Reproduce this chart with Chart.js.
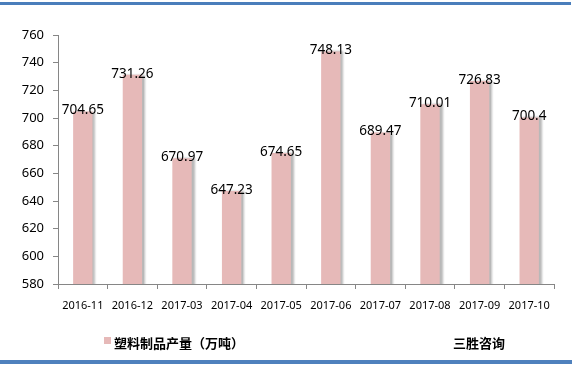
<!doctype html>
<html>
<head>
  <meta charset="utf-8" />
  <title>塑料制品产量</title>
  <style>
    html,body{margin:0;padding:0;background:#fff}
    .wrap{position:relative;width:572px;height:367px;overflow:hidden;background:#fff}
    .topline{position:absolute;left:0;top:2px;width:571px;height:3px;background:#4a7ebb}
    .botline{position:absolute;left:0;top:360px;width:572px;height:4px;background:#4f81bd}
    canvas{position:absolute;left:0;top:0}
    .legend{position:absolute;left:104px;top:333px;font:bold 13px "Noto Sans CJK SC",sans-serif;color:#000;white-space:nowrap}
    .legend i{display:inline-block;width:7px;height:7px;background:#e6b9b8;margin-right:3px;vertical-align:4px}
    .src{position:absolute;left:453px;top:333px;font:bold 13px "Noto Sans CJK SC",sans-serif;color:#000}
  </style>
</head>
<body>
  <div class="wrap">
    <div class="topline"></div>
    <canvas id="c" width="572" height="367"></canvas>
    <div class="botline"></div>
    <div class="legend"><i></i>塑料制品产量（万吨）</div>
    <div class="src">三胜咨询</div>
  </div>

  <script src="https://cdn.jsdelivr.net/npm/chart.js@4.4.1/dist/chart.umd.min.js"></script>
  <script>
    const months = ['2016-11','2016-12','2017-03','2017-04','2017-05','2017-06','2017-07','2017-08','2017-09','2017-10'];
    const output = [704.65, 731.26, 670.97, 647.23, 674.65, 748.13, 689.47, 710.01, 726.83, 700.4];
    const seriesName = '塑料制品产量（万吨）';

    // grey drop shadow on the right of each bar, like the Excel original
    const barShadow = {
      id: 'barShadow',
      beforeDatasetsDraw(chart){
        const c = chart.ctx;
        c.save();
        c.shadowColor = 'rgba(0,0,0,0.28)';
        c.shadowOffsetX = 3;
        c.shadowOffsetY = 0;
        c.shadowBlur = 2;
      },
      afterDatasetsDraw(chart){ chart.ctx.restore(); }
    };

    const valueLabels = {
      id: 'valueLabels',
      afterDatasetsDraw(chart){
        const c = chart.ctx;
        const meta = chart.getDatasetMeta(0);
        c.save();
        c.font = '13.5px "Noto Sans", sans-serif';
        c.fillStyle = '#000';
        c.textAlign = 'center';
        c.textBaseline = 'middle';
        meta.data.forEach((bar, i) => {
          c.fillText(String(output[i]), bar.x, bar.y - 1);
        });
        c.restore();
      }
    };

    new Chart(document.getElementById('c'), {
      type: 'bar',
      data: {
        labels: months,
        datasets: [{
          label: seriesName,
          data: output,
          backgroundColor: '#e6b9b8',
          borderWidth: 0,
          barPercentage: 0.39,
          categoryPercentage: 1
        }]
      },
      options: {
        responsive: false,
        animation: false,
        layout: { padding: { top: 35, right: 18, bottom: 0, left: 0 } },
        plugins: { legend: { display: false }, tooltip: { enabled: false } },
        scales: {
          x: {
            afterFit: s => { s.height = 83; },
            grid: { display: true, drawOnChartArea: false, offset: true, tickLength: 5, color: '#868686' },
            border: { color: '#868686' },
            ticks: { color: '#000', padding: 10, maxRotation: 0, font: { family: 'Noto Sans', size: 11 } }
          },
          y: {
            min: 580, max: 760,
            afterFit: s => { s.width = 58; },
            grid: { display: true, drawOnChartArea: false, tickLength: 5, color: '#868686' },
            border: { color: '#868686' },
            ticks: { stepSize: 20, color: '#000', padding: 9, font: { family: 'Noto Sans', size: 13 } }
          }
        }
      },
      plugins: [barShadow, valueLabels]
    });
  </script>
</body>
</html>
